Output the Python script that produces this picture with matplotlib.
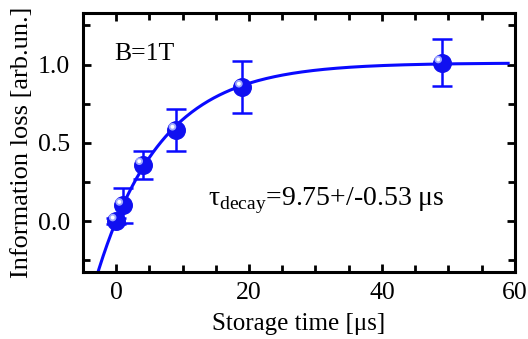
import numpy as np
import matplotlib
matplotlib.use('Agg')
import matplotlib.pyplot as plt
import matplotlib.transforms as mtransforms
from matplotlib.ticker import MultipleLocator

# Measured data
storage_time = [0, 1, 4, 9, 19, 49]
info_loss = [0.0, 0.10, 0.36, 0.58, 0.855, 1.01]
info_err = [0.02, 0.11, 0.09, 0.135, 0.165, 0.15]

# Exponential fit parameters (from the annotation)
tau_decay = 9.75
amplitude = 1.01
fit_start = -3.2
fit_end = 59

plt.rcParams['font.family'] = ['Liberation Serif', 'DejaVu Serif']
plt.rcParams['mathtext.fontset'] = 'custom'
plt.rcParams['mathtext.rm'] = 'Liberation Serif'

fig = plt.figure(figsize=(5.28, 3.39), dpi=100)
ax = fig.add_axes([0.157, 0.198, 0.818, 0.764])

# Fit curve
t_fit = np.linspace(fit_start, fit_end, 300)
y_fit = amplitude * (1 - np.exp(-t_fit / tau_decay))
ax.plot(t_fit, y_fit, color='#0a0aff', lw=2.2, zorder=2)

# Error bars and sphere-like markers
ax.errorbar(storage_time, info_loss, yerr=info_err, fmt='none',
            ecolor='#0a0aff', elinewidth=1.8, capsize=7, capthick=1.8, zorder=3)
ax.scatter(storage_time, info_loss, s=160, color='#1010f0', zorder=4)
highlight = ax.transData + mtransforms.ScaledTranslation(-2.5 / 72, 2.5 / 72, fig.dpi_scale_trans)
ax.scatter(storage_time, info_loss, s=30, color='#9fa8ff', zorder=5,
           transform=highlight, edgecolors='none')
ax.scatter(storage_time, info_loss, s=8, color='white', zorder=6,
           transform=highlight, edgecolors='none')

ax.set_xlim(-5, 60)
ax.set_ylim(-0.325, 1.33)
ax.xaxis.set_major_locator(MultipleLocator(20))
ax.xaxis.set_minor_locator(MultipleLocator(5))
ax.yaxis.set_major_locator(MultipleLocator(0.5))
ax.yaxis.set_minor_locator(MultipleLocator(0.25))
ax.tick_params(which='both', direction='in', top=True, right=True,
               width=2, labelsize=18.5)
ax.tick_params(which='major', length=6)
ax.tick_params(axis='x', which='major', pad=7)
ax.tick_params(axis='y', which='major', pad=9)
ax.tick_params(which='minor', length=5)
ax.yaxis.set_major_formatter(plt.FuncFormatter(lambda v, p: f'{v:.1f}'))
for s in ax.spines.values():
    s.set_linewidth(2.2)

ax.set_xlabel('Storage time [μs]', fontsize=18, labelpad=6.5)
ax.set_ylabel('Information loss [arb.un.]', fontsize=19, labelpad=4)

ax.text(-0.3, 1.07, 'B=1T', fontsize=18.5, va='center')
ax.text(13.8, 0.13, r'τ$_{\mathrm{decay}}$=9.75+/-0.53 μs', fontsize=20, va='center')

fig.savefig('out.png', dpi=100)
